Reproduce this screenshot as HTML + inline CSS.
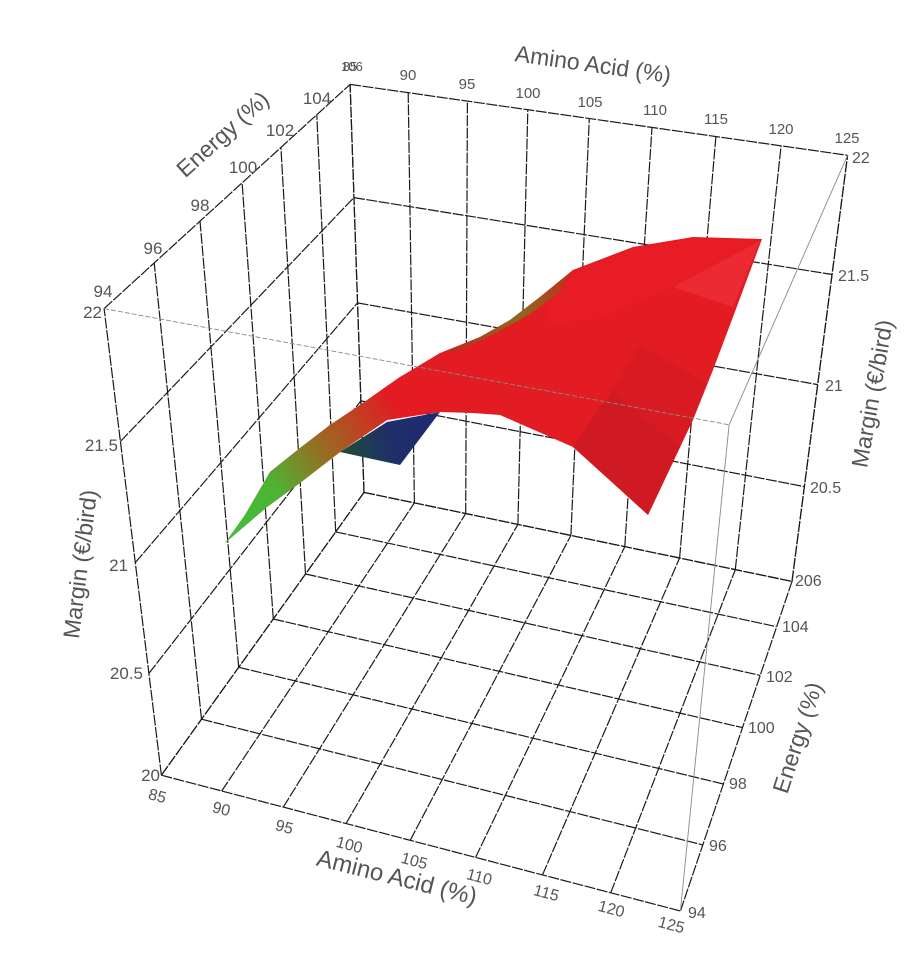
<!DOCTYPE html>
<html><head><meta charset="utf-8"><style>
html,body{margin:0;padding:0;background:#fff;}
svg{display:block;}
text{font-family:"Liberation Sans",sans-serif;fill:#555;}
</style></head><body>
<svg id="s" width="924" height="953" viewBox="0 0 924 953" xmlns="http://www.w3.org/2000/svg">
<defs>
<linearGradient id="gr" gradientUnits="userSpaceOnUse" x1="232" y1="535" x2="400" y2="410">
<stop offset="0" stop-color="#3cc23a"/><stop offset="0.3" stop-color="#4fb233"/>
<stop offset="0.6" stop-color="#9a6a22"/><stop offset="1" stop-color="#e31b22"/>
</linearGradient>
<linearGradient id="bl" gradientUnits="userSpaceOnUse" x1="345" y1="450" x2="430" y2="420">
<stop offset="0" stop-color="#1d4a3e"/><stop offset="0.5" stop-color="#1f2f68"/><stop offset="1" stop-color="#1f2a70"/>
</linearGradient>
<linearGradient id="ol" gradientUnits="userSpaceOnUse" x1="450" y1="350" x2="575" y2="270">
<stop offset="0" stop-color="#b4301e"/><stop offset="0.5" stop-color="#8c6a1c"/><stop offset="1" stop-color="#c8281f"/>
</linearGradient>
</defs>
<g id="grid"></g>
<g id="surf">
<path d="M225,543 L245,515 L270,472 L300,448 L330,425 L360,405 L400,377 L440,353 L480,337 L510,320 L540,297 L573,270 L633,247 L693,237 L762,239 L733,317 L713,370 L693,420 L648,515 L610,480 L573,447 L500,415 L473,413 L440,412 L387,420 L340,452 L300,483 L267,507 Z" fill="#e31b22"/>
<path d="M545,300 L573,272 L633,249 L693,239 L760,240 L673,287 L600,318 L550,325 Z" fill="#e81c25"/>
<path d="M673,287 L760,241 L733,307 Z" fill="#ec2a33"/>
<path d="M610,393 L640,345 L707,383 L680,447 Z" fill="#d81b23"/>
<path d="M573,447 L600,407 L613,393 L680,447 L648,515 Z" fill="#cf1a23"/>
<path d="M445,352 L480,337 L510,320 L540,297 L573,270 L560,292 L530,314 L490,336 L455,352 Z" fill="url(#ol)"/>
<path d="M225,543 L245,515 L270,472 L300,448 L330,425 L360,405 L400,377 L420,366 L410,400 L387,420 L340,452 L300,483 L267,507 Z" fill="url(#gr)"/>
<path d="M340,452 L387,422 L440,412 L400,465 Z" fill="url(#bl)"/>
</g>
<g id="front"></g>
<g font-size="15">
<text x="408" y="80" text-anchor="middle">90</text>
<text x="467" y="89" text-anchor="middle">95</text>
<text x="528" y="98" text-anchor="middle">100</text>
<text x="590" y="107" text-anchor="middle">105</text>
<text x="655" y="115" text-anchor="middle">110</text>
<text x="716" y="124" text-anchor="middle">115</text>
<text x="781" y="134" text-anchor="middle">120</text>
<text x="847" y="143" text-anchor="middle">125</text>
<text x="350" y="71" text-anchor="middle" font-size="13">85</text>
<text x="352" y="71" text-anchor="middle" font-size="13">106</text>
</g>
<text x="592" y="72" font-size="23" text-anchor="middle" transform="rotate(8 592 72)">Amino Acid (%)</text>
<g font-size="17">
<text x="103" y="297" text-anchor="middle">94</text>
<text x="153" y="254" text-anchor="middle">96</text>
<text x="200" y="211" text-anchor="middle">98</text>
<text x="243" y="173" text-anchor="middle">100</text>
<text x="280" y="136" text-anchor="middle">102</text>
<text x="317" y="104" text-anchor="middle">104</text>
</g>
<text x="228" y="140" font-size="23" text-anchor="middle" transform="rotate(-42 228 140)">Energy (%)</text>
<g font-size="17" text-anchor="end">
<text x="102" y="318">22</text>
<text x="118" y="451">21.5</text>
<text x="128" y="571">21</text>
<text x="143" y="679">20.5</text>
<text x="160" y="781">20</text>
</g>
<text x="88" y="565" font-size="23" text-anchor="middle" transform="rotate(-83 88 565)">Margin (€/bird)</text>
<g font-size="16" text-anchor="middle">
<text x="156" y="801" transform="rotate(15 156 801)">85</text>
<text x="220" y="814" transform="rotate(15 220 814)">90</text>
<text x="283" y="832" transform="rotate(15 283 832)">95</text>
<text x="348" y="850" transform="rotate(15 348 850)">100</text>
<text x="413" y="866" transform="rotate(15 413 866)">105</text>
<text x="478" y="882" transform="rotate(15 478 882)">110</text>
<text x="545" y="898" transform="rotate(15 545 898)">115</text>
<text x="610" y="914" transform="rotate(15 610 914)">120</text>
<text x="670" y="930" transform="rotate(15 670 930)">125</text>
</g>
<text x="395" y="885" font-size="24" text-anchor="middle" transform="rotate(14 395 885)">Amino Acid (%)</text>
<g font-size="16">
<text x="852" y="163">22</text>
<text x="838" y="281">21.5</text>
<text x="825" y="391">21</text>
<text x="810" y="493">20.5</text>
<text x="795" y="586">206</text>
<text x="782" y="632">104</text>
<text x="766" y="682">102</text>
<text x="748" y="733">100</text>
<text x="729" y="789">98</text>
<text x="709" y="851">96</text>
<text x="688" y="918">94</text>
</g>
<text x="880" y="395" font-size="23" text-anchor="middle" transform="rotate(-80 880 395)">Margin (€/bird)</text>
<text x="805" y="740" font-size="23" text-anchor="middle" transform="rotate(-72 805 740)">Energy (%)</text>
</svg>
<script>
(function(){
var P=[[85,94,22,106,310],[85,94,21.5,121,444],[85,94,21,132,565],[85,94,20.5,147,672],[85,94,20,163,773],
[85,106,22,350,85],[85,106,21,358,303],[85,106,20,363,493],[85,104,20,337,532],[85,96,22,155,262],[85,100,22,242,183],
[90,106,22,408,89],[105,106,22,589,119],[125,106,22,846,157],[125,106,21.5,833,275],[125,106,21,820,385],
[125,106,20.5,805,487],[125,106,20,790,580],[125,102,20,760,676],[125,98,20,723,783],[125,94,20,682,913],[125,94,22,728,421]];
var N=11,M=[],b=[];for(var i=0;i<N;i++){M.push(new Array(N).fill(0));b.push(0);}
function add(r,y){for(var i=0;i<N;i++){b[i]+=r[i]*y;for(var j=0;j<N;j++)M[i][j]+=r[i]*r[j];}}
P.forEach(function(p){var X=(p[0]-105)/20,Y=(p[1]-100)/6,Z=p[2]-21,u=p[3],v=p[4];
add([X,Y,Z,1,0,0,0,0,-u*X,-u*Y,-u*Z],u);add([0,0,0,0,X,Y,Z,1,-v*X,-v*Y,-v*Z],v);});
for(var c=0;c<N;c++){var mx=c;for(var r=c+1;r<N;r++)if(Math.abs(M[r][c])>Math.abs(M[mx][c]))mx=r;
var t=M[c];M[c]=M[mx];M[mx]=t;t=b[c];b[c]=b[mx];b[mx]=t;
for(var r=0;r<N;r++){if(r===c)continue;var f=M[r][c]/M[c][c];for(var k=c;k<N;k++)M[r][k]-=f*M[c][k];b[r]-=f*b[c];}}
var p=[];for(var i=0;i<N;i++)p.push(b[i]/M[i][i]);
function pr(a,e,m){var X=(a-105)/20,Y=(e-100)/6,Z=m-21,w=p[8]*X+p[9]*Y+p[10]*Z+1;
return [(p[0]*X+p[1]*Y+p[2]*Z+p[3])/w,(p[4]*X+p[5]*Y+p[6]*Z+p[7])/w];}
var ns="http://www.w3.org/2000/svg",g=document.getElementById("grid"),fr=document.getElementById("front");
function ln(par,A,B,st,w,d){var a=pr(A[0],A[1],A[2]),c=pr(B[0],B[1],B[2]);var l=document.createElementNS(ns,"line");
l.setAttribute("x1",a[0].toFixed(1));l.setAttribute("y1",a[1].toFixed(1));l.setAttribute("x2",c[0].toFixed(1));l.setAttribute("y2",c[1].toFixed(1));
l.setAttribute("stroke",st);l.setAttribute("stroke-width",w);if(d)l.setAttribute("stroke-dasharray",d);par.appendChild(l);}
var S="#1a1a1a",W=1.2,D="11 1.5";
for(var e=94;e<=106;e+=2){ln(g,[85,e,20],[85,e,22],S,W,D);ln(g,[85,e,20],[125,e,20],S,W,D);}
for(var m=20;m<=22.001;m+=0.5){ln(g,[85,94,m],[85,106,m],S,W,D);ln(g,[85,106,m],[125,106,m],S,W,D);}
for(var a=85;a<=125;a+=5){ln(g,[a,106,20],[a,106,22],S,W,D);ln(g,[a,94,20],[a,106,20],S,W,D);}
ln(g,[125,106,20],[125,106,22],S,W,D);
var F="#8a8a8a";
ln(fr,[85,94,22],[125,94,22],F,0.9,"5 2");ln(fr,[125,94,22],[125,106,22],F,0.9);ln(fr,[125,94,20],[125,94,22],F,0.9);
})();
</script>
</body></html>
